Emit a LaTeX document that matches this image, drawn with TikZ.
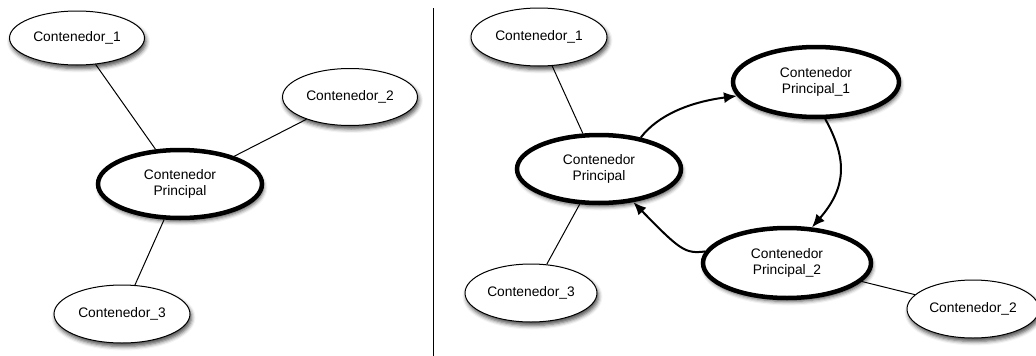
\documentclass[tikz,border=0pt]{standalone}
\usepackage{fontspec}
\setmainfont{Liberation Sans}
\usetikzlibrary{shapes.geometric,arrows.meta,shadows.blur}

\tikzset{
  every node/.style={font=\fontsize{13.8pt}{16.8pt}\selectfont, text=black},
  box/.style={ellipse, draw, fill=white, inner sep=0pt, line width=1pt,
    blur shadow={shadow xshift=1.5pt, shadow yshift=-3.5pt,
                 shadow blur radius=4pt, shadow opacity=70}},
  mainbox/.style={box, line width=4.5pt, align=center},
  link/.style={line width=1pt},
  flow/.style={line width=2pt, -{Latex[length=13pt,width=11pt]}},
  divider/.style={line width=1pt},
}

\begin{document}
\begin{tikzpicture}[x=1pt, y=-1pt]
  \useasboundingbox (0,0) rectangle (1036,356);

  % left: one main container with three satellites
  \node[box, minimum width=135pt, minimum height=54pt] (la) at (77,38) {Contenedor\_1};
  \node[box, minimum width=135pt, minimum height=57pt] (lb) at (350,97) {Contenedor\_2};
  \node[mainbox, minimum width=164pt, minimum height=68pt] (lp) at (180,184) {Contenedor\\Principal};
  \node[box, minimum width=136pt, minimum height=58pt] (lc) at (122,314) {Contenedor\_3};

  \draw[link] (la) -- (lp);
  \draw[link] (lb) -- (lp);
  \draw[link] (lp) -- (lc);

  % separator between the two layouts
  \coordinate (divtop) at (433,8);
  \coordinate (divbot) at (433,356);
  \draw[divider] (divtop) -- (divbot);

  % right: three main containers in a cycle
  \node[box, minimum width=136pt, minimum height=58pt] (ra) at (539,37) {Contenedor\_1};
  \node[mainbox, minimum width=164pt, minimum height=68pt] (rp) at (599,169) {Contenedor\\Principal};
  \node[mainbox, minimum width=166pt, minimum height=70pt] (rp1) at (816,82) {Contenedor\\Principal\_1};
  \node[mainbox, minimum width=168pt, minimum height=70pt] (rp2) at (787,263) {Contenedor\\Principal\_2};
  \node[box, minimum width=132pt, minimum height=58pt] (rc) at (531,293) {Contenedor\_3};
  \node[box, minimum width=132pt, minimum height=58pt] (rb) at (973,309) {Contenedor\_2};

  \draw[link] (ra) -- (rp);
  \draw[link] (rp) -- (rc);
  \draw[link] (rp2) -- (rb);

  \draw[flow] (rp.37) .. controls (658,115) and (690,102) .. (rp1.190);
  \draw[flow] (rp1.-76) .. controls (848,160) and (846,188) .. (rp2.55);
  \draw[flow] (rp2.172) .. controls (685,254) and (680,250) .. (rp.-44);
\end{tikzpicture}
\end{document}
